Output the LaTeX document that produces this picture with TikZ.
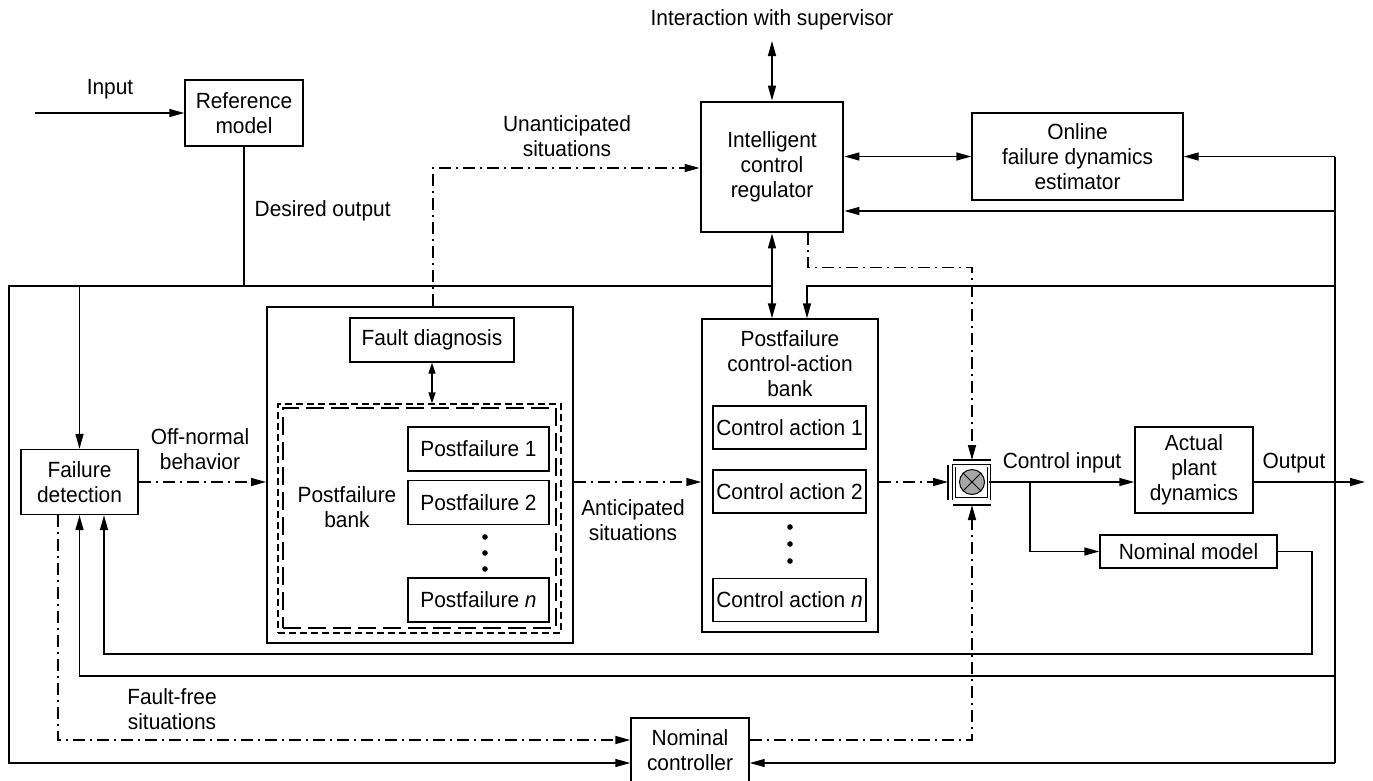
\documentclass[tikz,border=0pt]{standalone}
\usepackage{fontspec}
\setmainfont[FakeStretch=0.95]{Liberation Sans}
\usetikzlibrary{arrows.meta}
\begin{document}
\begin{tikzpicture}[x=1pt,y=-1pt, line width=1.4pt,
  every node/.style={font=\fontsize{22}{25}\selectfont, align=center},
  box/.style={draw, rectangle, inner sep=0pt},
  arr/.style={-{Triangle[length=15pt,width=8pt]}},
  darr/.style={{Triangle[length=15pt,width=8pt]}-{Triangle[length=15pt,width=8pt]}},
  sdarr/.style={{Triangle[length=11pt,width=7pt]}-{Triangle[length=11pt,width=7pt]}},
  dd/.style={dash pattern=on 12pt off 5pt on 2pt off 5pt},
  lbl/.style={inner sep=0pt}]
\useasboundingbox (0,0) rectangle (1373,780);

% boxes
\node[box, minimum width=118pt, minimum height=66pt] (ref) at (244,113) {Reference\\model};
\node[box, line width=2.8pt, minimum width=142pt, minimum height=130pt] (icr) at (772,167) {Intelligent\\control\\regulator};
\node[box, minimum width=211pt, minimum height=87pt] (est) at (1077.5,156.5) {Online\\failure dynamics\\estimator};
\node[box, minimum width=117pt, minimum height=65pt] (fd) at (79.5,482) {Failure\\detection};
\node[box, line width=2pt, minimum width=306pt, minimum height=336pt] (pfb) at (420,475) {};
\node[box, minimum width=164pt, minimum height=44pt] (fdiag) at (432,340) {Fault diagnosis};
\node[draw, inner sep=0pt, line width=1.2pt, dash pattern=on 7pt off 4pt, minimum width=283pt, minimum height=229pt] (bank) at (419.5,518.5) {};
\node[draw, inner sep=0pt, line width=2.6pt, dash pattern=on 18pt off 7pt, minimum width=273pt, minimum height=220pt] (bankin) at (419.5,518) {};
\node[lbl] (bankt) at (347,507) {Postfailure\\bank};
\node[box, minimum width=141pt, minimum height=44pt] (pf1) at (478.5,449) {Postfailure 1};
\node[box, minimum width=141pt, minimum height=44pt] (pf2) at (478.5,502.5) {Postfailure 2};
\node[box, minimum width=141pt, minimum height=44pt] (pfn) at (478.5,600) {Postfailure \textit{n}};
\fill (485,537) circle (2.8pt) (485,553) circle (2.8pt) (485,569) circle (2.8pt);

\node[box, minimum width=176pt, minimum height=313pt] (pcab) at (790,475.5) {};
\node[lbl] (pcabt) at (790,364) {Postfailure\\control-action\\bank};
\node[box, minimum width=153pt, minimum height=43pt] (ca1) at (789.5,427.5) {Control action 1};
\node[box, minimum width=153pt, minimum height=43pt] (ca2) at (789.5,491.5) {Control action 2};
\node[box, minimum width=153pt, minimum height=43pt] (can) at (789.5,600) {Control action \textit{n}};
\fill (790,527) circle (2.8pt) (790,544) circle (2.8pt) (790,561) circle (2.8pt);

% switch
\node[draw, inner sep=0pt, line width=0.9pt, double, double distance=2pt, minimum width=35pt, minimum height=33pt] (sw) at (971.5,482) {};
\node[circle, draw, line width=1pt, fill=gray!70, minimum size=25pt, inner sep=0pt] (swc) at (972,482) {};
\draw[line width=1pt] (swc.north west) -- (swc.south east) (swc.north east) -- (swc.south west);
\coordinate (swtop) at (972,460);
\coordinate (swbot) at (972,505);
\coordinate (swleft) at (948,482);
\draw (953,460) -- (991,460);
\draw (953,505) -- (991,505);
\draw (948,465) -- (948,500);

\node[box, minimum width=118pt, minimum height=86pt] (plant) at (1194,470) {Actual\\plant\\dynamics};
\node[box, minimum width=177pt, minimum height=33pt] (nmodel) at (1188.5,551.5) {Nominal model};
\node[box, minimum width=118pt, minimum height=64pt] (nc) at (690,750) {Nominal\\controller};

% labels
\node[lbl] (linput) at (110,89) {Input};
\node[lbl, anchor=west] (ldes) at (254,211) {Desired output};
\node[lbl] (lun) at (567,136) {Unanticipated\\situations};
\node[lbl] (lsup) at (772,20) {Interaction with supervisor};
\node[lbl] (loff) at (200,449) {Off-normal\\behavior};
\node[lbl] (lant) at (633,520) {Anticipated\\situations};
\node[lbl] (lci) at (1062,463) {Control input};
\node[lbl] (lout) at (1294,463) {Output};
\node[lbl] (lff) at (172,709) {Fault-free\\situations};

% coordinates
\coordinate (inp) at (35,113);
\coordinate (sup) at (772,41);
\coordinate (j) at (772,286);
\coordinate (lft) at (9,286);
\coordinate (lfb) at (9,763);
\coordinate (ua) at (433,168);
\coordinate (rtop) at (1335,156.5);
\coordinate (r2) at (1335,211);
\coordinate (r3) at (1335,286);
\coordinate (r4) at (1335,676);
\coordinate (rbot) at (1335,763);
\coordinate (out) at (1365,482);
\coordinate (br) at (1030,482);
\coordinate (nm1) at (1312,654);
\coordinate (ff) at (58,740);

% connectors
\draw[arr] (inp) -- (ref.west);
\draw (ref.south) -- (ref.south |- j);
\draw[arr] (j) -- (lft) -- (lfb) -- (nc.west |- lfb);
\draw[arr] (fd.north |- j) -- (fd.north);
\draw[darr] (sup) -- (icr.north);
\draw[darr] (icr.east |- est.west) -- (est.west);
\draw (rtop) -- (rbot);
\draw[arr] (rtop) -- (est.east);
\draw[arr] (r2) -- (icr.east |- r2);
\draw[arr] (r3) -| ([xshift=17pt]pcab.north);
\draw[darr] (icr.south) -- (icr.south |- pcab.north);
\draw[dd,arr] ([xshift=36pt]icr.south) -- ++(0,34) -| (swtop);
\draw[dd,arr] (pfb.north -| ua) -- (ua) -- (icr.west |- ua);
\draw[sdarr] (fdiag.south) -- (fdiag.south |- bank.north);
\draw[dd,arr] (fd.east) -- (pfb.west |- fd.east);
\draw[dd,arr] (pfb.east |- fd.east) -- (pcab.west |- fd.east);
\draw[dd,arr] (pcab.east |- swleft) -- (swleft);
\draw[arr] (sw.east) -- (plant.west |- sw.east);
\draw[arr] (plant.east |- sw.east) -- (out);
\draw[arr] (br) |- (nmodel.west);
\draw[arr] (nmodel.east) -| (nm1) -- ([xshift=24.5pt]fd.south |- nm1) -- ([xshift=24.5pt]fd.south);
\draw[arr] (r4) -- (fd.south |- r4) -- (fd.south);
\draw[arr] (rbot) -- (nc.east |- rbot);
\draw[dd,arr] ([xshift=-21.5pt]fd.south) -- (ff) -- (nc.west |- ff);
\draw[dd,arr] (nc.east |- ff) -- (swbot |- ff) -- (swbot);
\end{tikzpicture}
\end{document}
